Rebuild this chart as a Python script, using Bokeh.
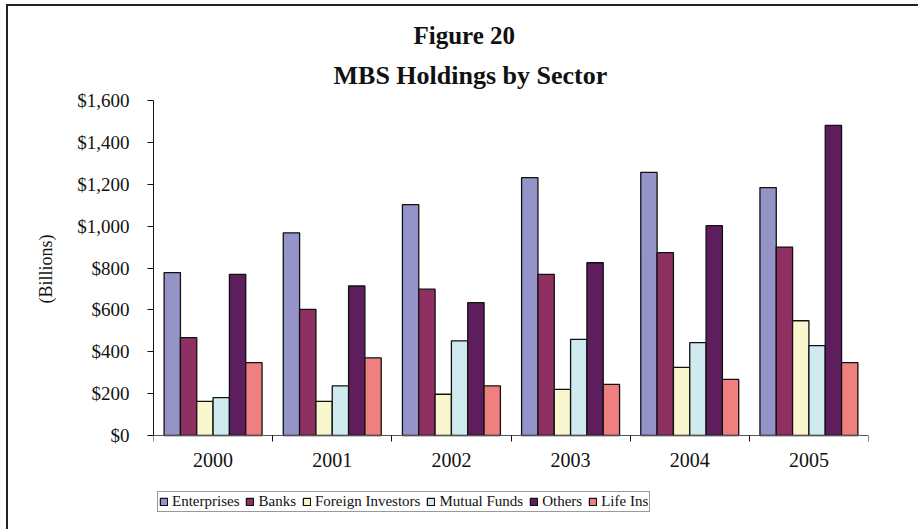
import numpy as np
from bokeh.plotting import figure
from bokeh.models import (Range1d, FixedTicker, NumeralTickFormatter, Title,
                          Legend, LegendItem, ColumnDataSource)
from bokeh.embed import file_html
from bokeh.resources import INLINE

# ---- data (billions of dollars) ----
years = ["2000", "2001", "2002", "2003", "2004", "2005"]
series_names = ["Enterprises", "Banks", "Foreign Investors", "Mutual Funds", "Others", "Life Ins"]
enterprises = [778, 968, 1103, 1232, 1257, 1184]
banks = [467, 602, 699, 770, 873, 900]
foreign_investors = [163, 163, 197, 220, 325, 548]
mutual_funds = [181, 237, 452, 459, 444, 429]
others = [770, 714, 635, 825, 1002, 1481]
life_ins = [348, 371, 237, 244, 268, 348]
y_ticks = [0, 200, 400, 600, 800, 1000, 1200, 1400, 1600]

series_values = [enterprises, banks, foreign_investors, mutual_funds, others, life_ins]
colors = ["#9494C8", "#8F3062", "#FAF7CE", "#CFEBEF", "#5E1E5E", "#F08080"]

FONT = "Liberation Serif"

# layout (pixels): plot area spans y_ticks[-1] at top=100 to 0 at 435;
# the frame extends below to hold the category labels and the legend
W, H = 918, 529
TOP, ZERO_Y, BOTTOM = 100, 435, H - 2
y_max = y_ticks[-1]
y_min = -y_max * (BOTTOM - ZERO_Y) / (ZERO_Y - TOP)

p = figure(width=W, height=H, output_backend="svg", toolbar_location=None,
           x_range=Range1d(0, len(years)), y_range=Range1d(y_min, y_max),
           min_border_left=153, min_border_right=50, min_border_top=TOP,
           min_border_bottom=H - BOTTOM, title=None)
# chart-area border (left and top edges visible, as in the cropped reference)
p.styles = {"box-shadow": "inset 6px 4px 0 0 #ffffff, inset 8px 6px 0 0 #222222"}
p.background_fill_color = "white"
p.border_fill_color = None
p.outline_line_color = None
p.xgrid.visible = False
p.ygrid.visible = False

bar_w = 0.137
n = len(series_names)
centers = np.arange(len(years)) + 0.5
items = []
for k, (name, vals, col) in enumerate(zip(series_names, series_values, colors)):
    xs = centers + (k - (n - 1) / 2) * bar_w
    src = ColumnDataSource(dict(x=xs, top=vals))
    r = p.vbar(x="x", top="top", width=bar_w, bottom=0, source=src,
               fill_color=col, line_color="#111111", line_width=1.3)
    items.append(LegendItem(label=name, renderers=[r]))

# y axis
p.yaxis.ticker = FixedTicker(ticks=y_ticks)
p.yaxis.bounds = (0, y_max)
p.yaxis.formatter = NumeralTickFormatter(format="$0,0")
p.yaxis.major_tick_out = 6
p.yaxis.major_tick_in = 0
p.yaxis.minor_tick_line_color = None
p.yaxis.axis_line_color = "#111111"
p.yaxis.major_tick_line_color = "#111111"
p.yaxis.major_label_text_font = FONT
p.yaxis.major_label_text_font_size = "19px"
p.yaxis.major_label_text_color = "#111111"
p.yaxis.major_label_standoff = 18

# y axis title, centred on the value axis (not on the extended frame)
ylab = Title(text="(Billions)", align="left", offset=224,
             text_font=FONT, text_font_size="18px", text_font_style="normal",
             text_color="#111111", standoff=37)
p.add_layout(ylab, "left")

# x axis at value 0: labels at category centers, tick marks at boundaries
p.xaxis.fixed_location = 0
p.xaxis.ticker = FixedTicker(ticks=list(centers), minor_ticks=list(range(len(years) + 1)))
p.xaxis.major_label_overrides = {float(c): y for c, y in zip(centers, years)}
p.xaxis.major_tick_out = 0
p.xaxis.major_tick_in = 0
p.xaxis.minor_tick_out = 6
p.xaxis.minor_tick_in = 0
p.xaxis.minor_tick_line_color = "#111111"
p.xaxis.axis_line_color = "#555555"
p.xaxis.major_label_text_font = FONT
p.xaxis.major_label_text_font_size = "20px"
p.xaxis.major_label_text_color = "#111111"
p.xaxis.major_label_standoff = 11

# titles
t2 = Title(text="MBS Holdings by Sector", align="left", offset=180,
           text_font=FONT, text_font_size="26px", text_font_style="bold",
           text_color="#111111", standoff=21)
t1 = Title(text="Figure 20", align="left", offset=260,
           text_font=FONT, text_font_size="25px", text_font_style="bold",
           text_color="#111111", standoff=0)
p.add_layout(t2, "above")
p.add_layout(t1, "above")

legend = Legend(items=items, orientation="horizontal", location=(4, 15),
                label_text_font=FONT, label_text_font_size="15px",
                label_text_color="#111111",
                glyph_width=9, glyph_height=9, label_standoff=4, spacing=6,
                padding=1, margin=0, border_line_color="#333333",
                border_line_width=1, background_fill_color="white",
                background_fill_alpha=1, label_height=15)
p.add_layout(legend, "center")

open("out.html", "w").write(file_html(p, INLINE))
